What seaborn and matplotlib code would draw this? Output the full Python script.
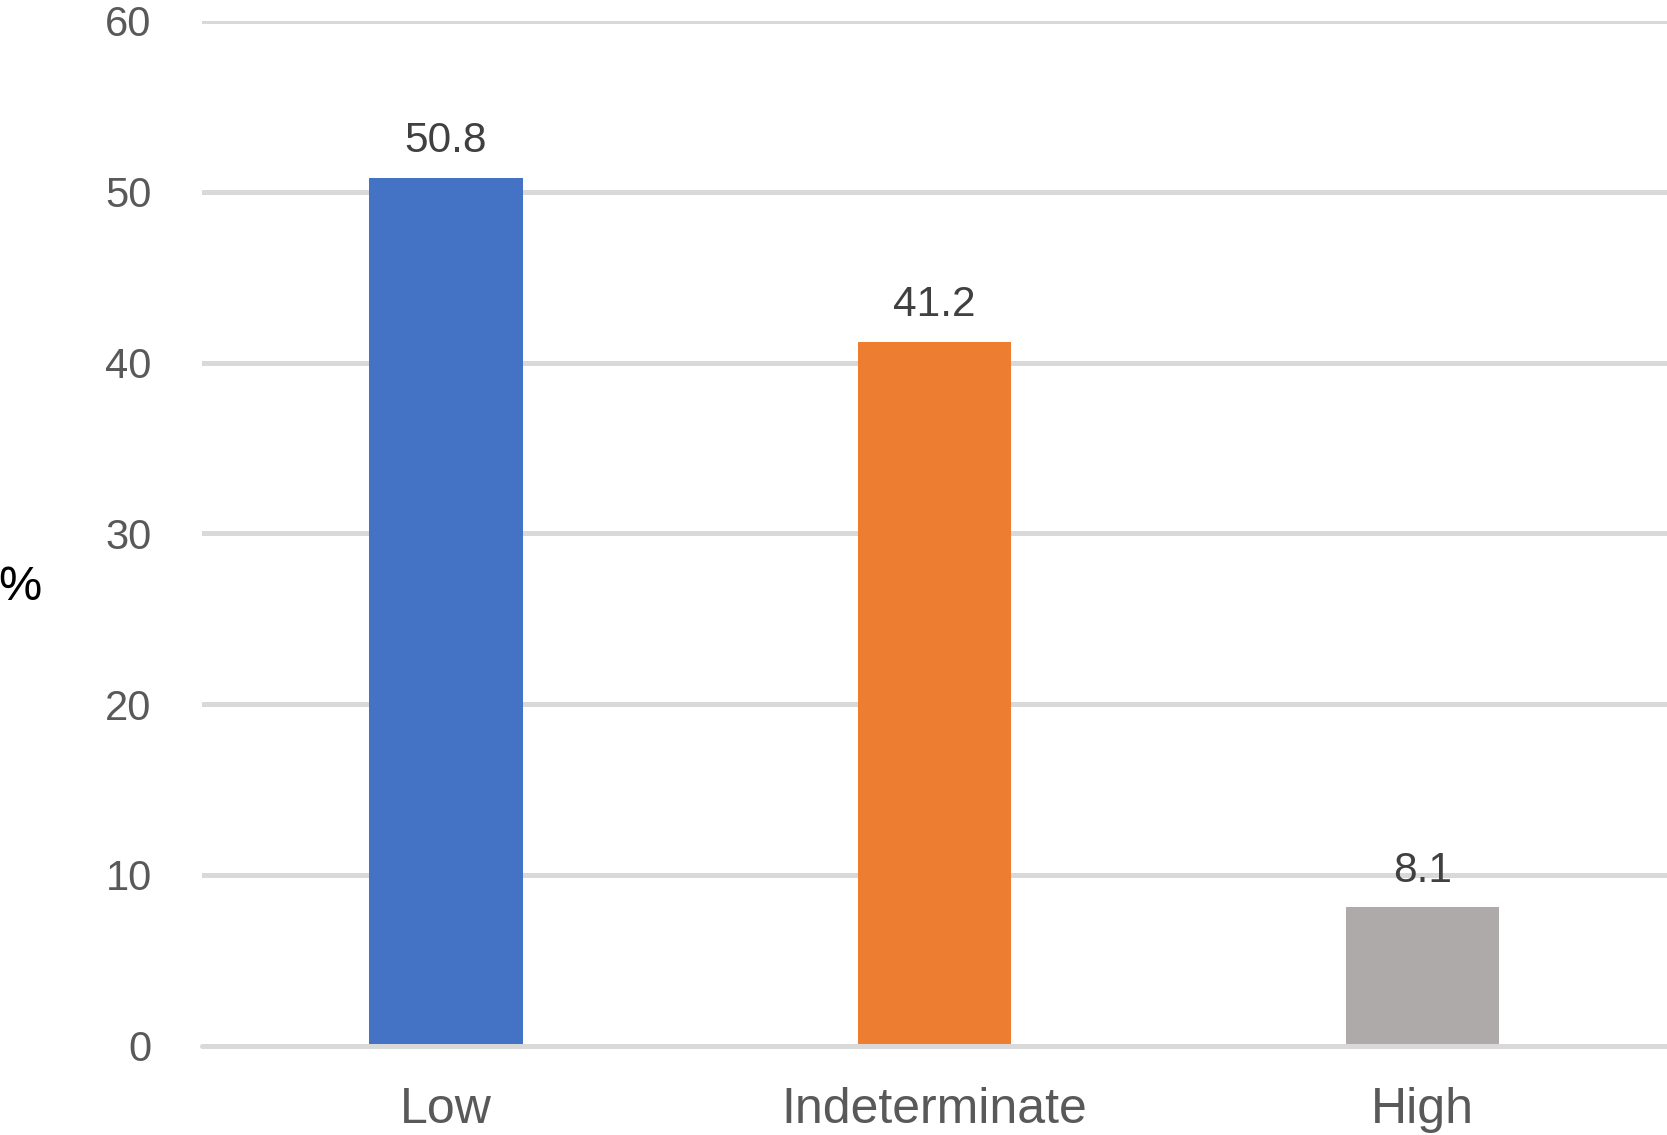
import matplotlib
matplotlib.use("Agg")
import matplotlib.pyplot as plt
import seaborn as sns
import pandas as pd

categories = ["Low", "Indeterminate", "High"]
values = [50.8, 41.2, 8.1]
colors = ["#4472C4", "#ED7D31", "#AEAAAA"]
yticks = [0, 10, 20, 30, 40, 50, 60]

sns.set_theme(style="white")
plt.rcParams["font.family"] = ["Liberation Sans", "DejaVu Sans"]

df = pd.DataFrame({"category": categories, "value": values})

fig = plt.figure(figsize=(16.67, 11.35), dpi=100)
ax = fig.add_axes([0.121, 0.0786, 0.879, 0.903])

sns.barplot(data=df, x="category", y="value", hue="category",
            palette=colors, width=0.314, legend=False, ax=ax,
            saturation=1, zorder=2, linewidth=0)

ax.set_xlim(-0.5, 2.5)
ax.set_ylim(0, 60)
ax.set_yticks(yticks)
ax.set_yticklabels([str(t) for t in yticks], fontsize=30, color="#595959")
ax.tick_params(axis="y", length=0, pad=36)
ax.tick_params(axis="x", length=0, pad=30, labelsize=36, labelcolor="#595959")
ax.yaxis.grid(True, color="#D9D9D9", linewidth=3.6, zorder=0)
ax.set_axisbelow(True)
ax.axhline(0, color="#D9D9D9", linewidth=3.6, zorder=3, clip_on=False)
for s in ax.spines.values():
    s.set_visible(False)

ax.set_xlabel("")
ax.set_ylabel("%", fontsize=35, color="black", rotation=0, labelpad=0,
              ha="center", va="center")
ax.yaxis.set_label_coords(-0.124, 0.447)

for i, v in enumerate(values):
    ax.annotate(f"{v}", (i, v), xytext=(0, 12), textcoords="offset points",
                ha="center", va="bottom", fontsize=30.5, color="#404040")

fig.savefig("out.png", dpi=100)
